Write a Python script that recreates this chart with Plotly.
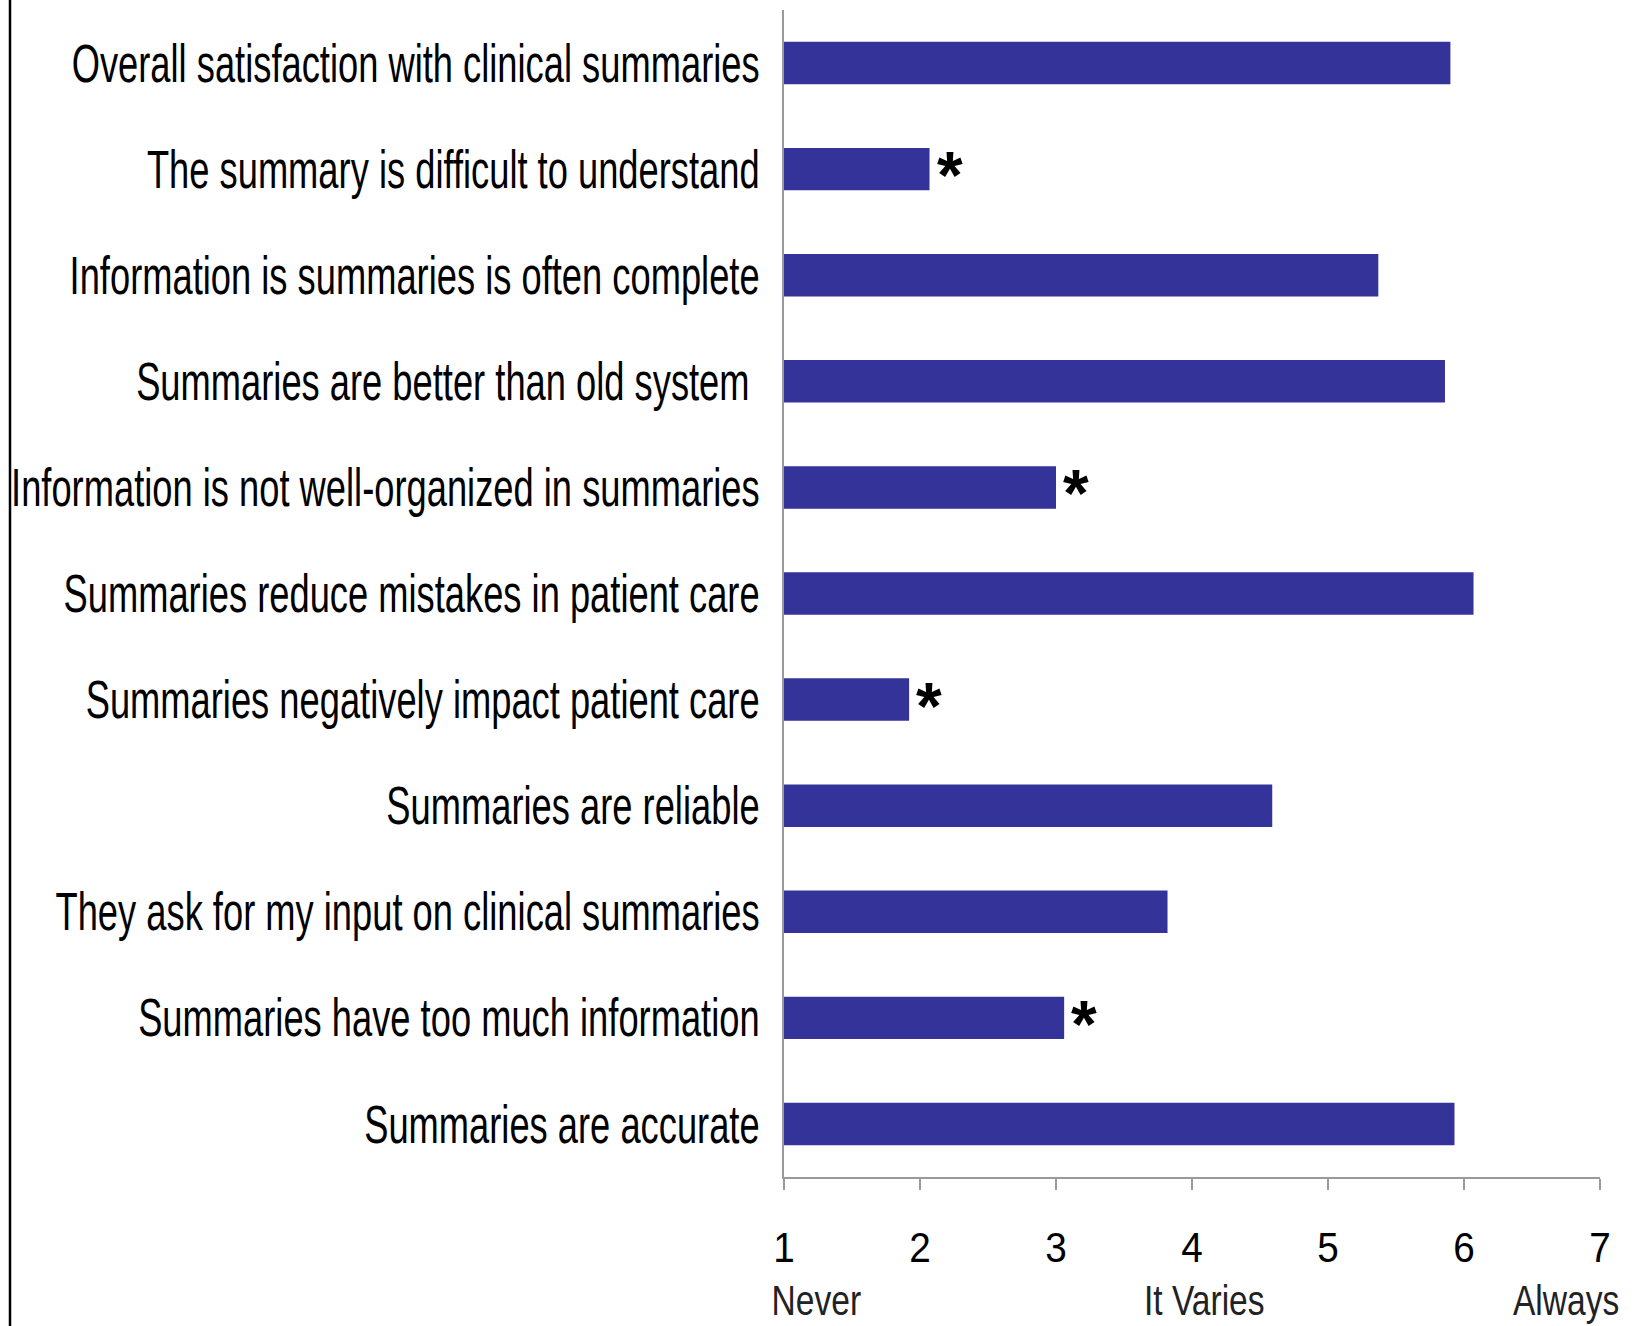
import plotly.graph_objects as go

categories = [
    "Overall satisfaction with clinical summaries",
    "The summary is difficult to understand",
    "Information is summaries is often complete",
    "Summaries are better than old system\u00a0",
    "Information is not well-organized in summaries",
    "Summaries reduce mistakes in patient care",
    "Summaries negatively impact patient care",
    "Summaries are reliable",
    "They ask for my input on clinical summaries",
    "Summaries have too much information",
    "Summaries are accurate",
]
means = [5.90, 2.07, 5.37, 5.86, 3.00, 6.07, 1.92, 4.59, 3.82, 3.06, 5.93]
significant = [False, True, False, False, True, False, True, False, False, True, False]

tick_values = [1, 2, 3, 4, 5, 6, 7]
anchor_labels = ["Never", "It Varies", "Always"]
anchor_positions = [1.24, 4.09, 6.75]

W, H = 1637, 1326
ML, MR, MT, MB = 784, 37, 10, 149
FONT = "Liberation Sans, Arial, sans-serif"
BAR = "#333399"
AXIS = "#9a9a9a"

fig = go.Figure()
fig.add_trace(go.Bar(
    y=categories, x=means, orientation="h",
    marker=dict(color=BAR, line=dict(width=0)),
    width=0.4, hoverinfo="x+y",
))

for cat, m, s in zip(categories, means, significant):
    if s:
        fig.add_annotation(x=m, y=cat, text="*", showarrow=False,
                           xanchor="left", yanchor="middle", xshift=6, yshift=-6,
                           borderpad=0,
                           font=dict(family=FONT, size=66, color="black", weight="bold"))

plot_w = W - ML - MR
plot_h = H - MT - MB

for lab, pos in zip(anchor_labels, anchor_positions):
    fig.add_annotation(x=pos, y=-MB / plot_h, xref="x", yref="paper", text=lab,
                       showarrow=False, xanchor="center", yanchor="bottom",
                       yshift=1, borderpad=0,
                       font=dict(family=FONT, size=43, color="#222222"))

bx = (10 - ML) / plot_w
fig.add_shape(type="line", xref="paper", yref="paper",
              x0=bx, x1=bx, y0=-MB / plot_h, y1=1 + MT / plot_h,
              line=dict(color="black", width=2.5))

fig.update_layout(
    width=W, height=H, autosize=False,
    margin=dict(l=ML, r=MR, t=MT, b=MB, pad=0),
    plot_bgcolor="white", paper_bgcolor="white",
    showlegend=False,
    font=dict(family=FONT, color="black"),
)
fig.update_xaxes(
    range=[1, 7], tickvals=tick_values, ticktext=[str(v) for v in tick_values],
    ticks="outside", ticklen=11, tickwidth=1.5, tickcolor=AXIS,
    showline=True, linecolor=AXIS, linewidth=1.5,
    showgrid=False, zeroline=False, automargin=False,
    tickfont=dict(family=FONT, size=43, color="black"),
    ticklabelstandoff=21,
)
fig.update_yaxes(
    categoryorder="array", categoryarray=categories, autorange="reversed",
    showline=True, linecolor=AXIS, linewidth=1.5,
    ticks="", showgrid=False, zeroline=False, automargin=False,
    tickfont=dict(family=FONT, size=53, color="black"),
    ticklabelstandoff=12,
)

post = """
document.body.style.margin = '0';
var gd = document.getElementById('{plot_id}');
function squeeze(sel, f, minLen) {
  gd.querySelectorAll(sel).forEach(function (t) {
    if (t.textContent.length < minLen) return;
    var L = t.getComputedTextLength();
    t.setAttribute('textLength', L * f);
    t.setAttribute('lengthAdjust', 'spacingAndGlyphs');
  });
}
squeeze('.ytick text', 0.685, 2);
squeeze('.xtick text', 0.9, 1);
squeeze('.annotation-text', 0.78, 2);
"""

fig.write_html("out.html", post_script=post, config={"displayModeBar": False})
